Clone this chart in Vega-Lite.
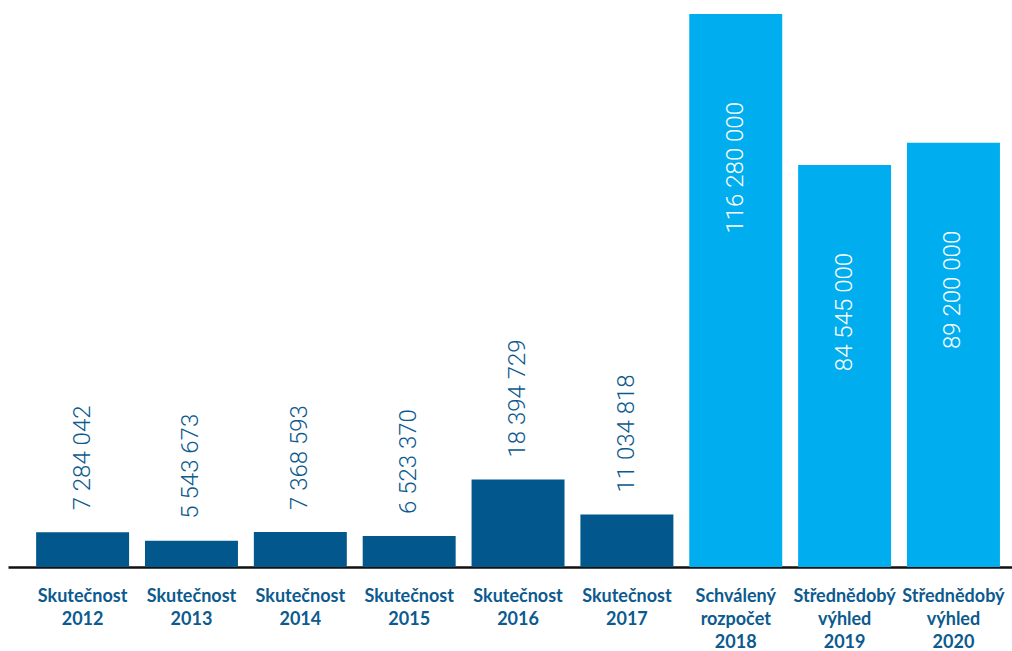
{
  "$schema": "https://vega.github.io/schema/vega-lite/v6.json",
  "autosize": {"type": "none"},
  "width": 1004,
  "height": 553,
  "padding": {"left": 8, "top": 14, "right": 0, "bottom": 84},
  "background": "white",
  "config": {"view": {"stroke": null}},
  "data": {
    "values": [
      {"cat": "Skutečnost|2012", "value": 7284042, "label": "7 284 042", "group": "actual"},
      {"cat": "Skutečnost|2013", "value": 5543673, "label": "5 543 673", "group": "actual"},
      {"cat": "Skutečnost|2014", "value": 7368593, "label": "7 368 593", "group": "actual"},
      {"cat": "Skutečnost|2015", "value": 6523370, "label": "6 523 370", "group": "actual"},
      {"cat": "Skutečnost|2016", "value": 18394729, "label": "18 394 729", "group": "actual"},
      {"cat": "Skutečnost|2017", "value": 11034818, "label": "11 034 818", "group": "actual"},
      {"cat": "Schválený|rozpočet|2018", "value": 116280000, "label": "116 280 000", "group": "plan"},
      {"cat": "Střednědobý|výhled|2019", "value": 84545000, "label": "84 545 000", "group": "plan"},
      {"cat": "Střednědobý|výhled|2020", "value": 89200000, "label": "89 200 000", "group": "plan"}
    ]
  },
  "encoding": {
    "x": {
      "field": "cat",
      "type": "nominal",
      "sort": null,
      "scale": {"paddingInner": 0.146, "paddingOuter": 0.1846, "align": 0.7},
      "axis": {
        "title": null,
        "labelAngle": 0,
        "labelExpr": "split(datum.label, '|')",
        "labelFont": "Lato",
        "labelFontWeight": "bold",
        "labelFontSize": 18,
        "labelColor": "#0C5A8E",
        "labelLineHeight": 23,
        "labelBaseline": "top",
        "labelPadding": 20,
        "ticks": false,
        "domainColor": "#111111",
        "domainWidth": 2.5,
        "labelOverlap": false,
        "labelBound": false,
        "labelFlush": false
      }
    },
    "y": {
      "field": "value",
      "type": "quantitative",
      "scale": {"domain": [0, 116280000], "nice": false, "zero": true},
      "axis": null
    }
  },
  "layer": [
    {
      "mark": {"type": "bar"},
      "encoding": {
        "color": {
          "field": "group",
          "type": "nominal",
          "scale": {"domain": ["actual", "plan"], "range": ["#02578C", "#00AEEF"]},
          "legend": null
        }
      }
    },
    {
      "transform": [{"filter": "datum.group === 'actual'"}],
      "mark": {"type": "text", "angle": 270, "align": "left", "baseline": "middle", "dx": 22, "font": "Roboto", "fontWeight": 300, "fontSize": 24, "color": "#0C5A8E"},
      "encoding": {"text": {"field": "label"}}
    },
    {
      "transform": [{"filter": "datum.group === 'plan'"}],
      "mark": {"type": "text", "angle": 270, "align": "right", "baseline": "middle", "dx": -88, "font": "Roboto", "fontWeight": 300, "fontSize": 24, "color": "white"},
      "encoding": {"text": {"field": "label"}}
    }
  ]
}
